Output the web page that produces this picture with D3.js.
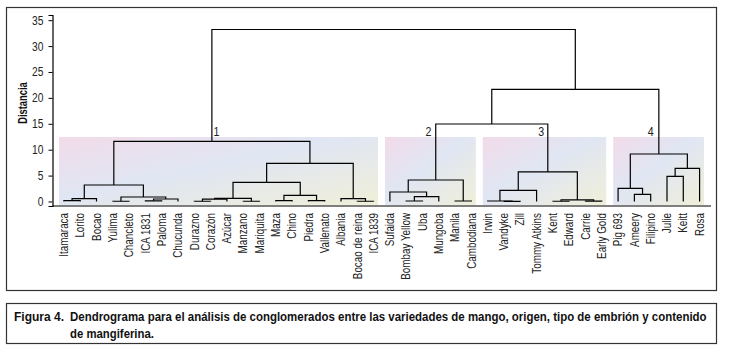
<!DOCTYPE html>
<html>
<head>
<meta charset="utf-8">
<script src="https://cdn.jsdelivr.net/npm/d3@7"></script>
<style>
  body { margin: 0; background: #fff; }
  text { font-family: "Liberation Sans", Arial, sans-serif; }
</style>
</head>
<body>
<div id="chart"></div>
<script>
// leaf order along the x axis
const leaves = ["Itamaraca", "Lorito", "Bocao", "Yulima", "Chancleto", "ICA 1831", "Paloma", "Chucunda",
    "Durazno", "Corazón", "Azúcar", "Manzano", "Mariquita", "Maza", "Chino", "Piedra", "Vallenato",
    "Albania", "Bocao de reina", "ICA 1839", "Sufaida", "Bombay Yellow", "Uba", "Mungoba", "Manila",
    "Cambodiana", "Irwin", "Vandyke", "Zill", "Tommy Atkins", "Kent", "Edward", "Carrie", "Early Gold",
    "Pig 693", "Ameery", "Filipino", "Julie", "Keitt", "Rosa"];

// merges (height = distance), leaves are names
const cluster1 = {h: 11.6, c: [
    {h: 3.18, c: [
        {h: 0.55, c: [{h: 0.15, c: ["Itamaraca", "Lorito"]}, "Bocao"]},
        {h: 0.87, c: [{h: 0.05, c: ["Yulima", "Chancleto"]},
                      {h: 0.48, c: [{h: 0.12, c: ["ICA 1831", "Paloma"]}, "Chucunda"]}]}
    ]},
    {h: 7.37, c: [
        {h: 3.7, c: [
            {h: 0.6, c: [{h: 0.45, c: [{h: 0.05, c: ["Durazno", "Corazón"]}, "Azúcar"]},
                         {h: 0.05, c: ["Manzano", "Mariquita"]}]},
            {h: 1.18, c: [{h: 0.15, c: ["Maza", "Chino"]}, {h: 0.15, c: ["Piedra", "Vallenato"]}]}
        ]},
        {h: 0.55, c: ["Albania", {h: 0.05, c: ["Bocao de reina", "ICA 1839"]}]}
    ]}
]};
const cluster2 = {h: 4.15, c: [
    {h: 1.83, c: ["Sufaida", {h: 0.93, c: [{h: 0.1, c: ["Bombay Yellow", "Uba"]}, "Mungoba"]}]},
    {h: 0.1, c: ["Manila", "Cambodiana"]}
]};
const cluster3 = {h: 5.7, c: [
    {h: 2.16, c: [{h: 0.1, c: ["Irwin", {h: 0.04, c: ["Vandyke", "Zill"]}]}, "Tommy Atkins"]},
    {h: 0.3, c: [{h: 0.05, c: ["Kent", "Edward"]}, {h: 0.08, c: ["Carrie", "Early Gold"]}]}
]};
const cluster4 = {h: 9.17, c: [
    {h: 2.55, c: ["Pig 693", {h: 1.39, c: ["Ameery", "Filipino"]}]},
    {h: 6.4, c: [{h: 4.86, c: ["Julie", "Keitt"]}, "Rosa"]}
]};
const tree = {h: 33.2, c: [cluster1, {h: 21.66, c: [{h: 14.96, c: [cluster2, cluster3]}, cluster4]}]};

// cluster boxes: first / last leaf, label and where the label sits (leaf units)
const clusterNames = ["1", "2", "3", "4"];
const clusterFirst = ["Itamaraca", "Sufaida", "Irwin", "Pig 693"];
const clusterLast = ["ICA 1839", "Cambodiana", "Early Gold", "Rosa"];
const clusterLabelAt = [10.36, 23.36, 30.28, 37.0];
const boxTop = 12.45, boxBottom = -0.7, labelHeight = 13.5;

const yTicks = [0, 5, 10, 15, 20, 25, 30, 35];

const captionHead = "Figura 4.";
const captionLine1 = "Dendrograma para el análisis de conglomerados entre las variedades de mango, origen, tipo de embrión y contenido";
const captionLine2 = "de mangiferina.";

const width = 729, height = 354;
const narrow = 0.82; // squeeze Liberation Sans to look like Arial Narrow

const svg = d3.select("#chart").append("svg")
    .attr("width", width)
    .attr("height", height);

const x = d3.scaleLinear().domain([0.3, 40.7]).range([52.5, 711]);
const y = d3.scaleLinear().domain([-0.87, 36]).range([206, 15]);
const leafPos = name => leaves.indexOf(name) + 1;

// outer frame
svg.append("rect")
    .attr("x", 6.5).attr("y", 7.5).attr("width", 710).attr("height", 283)
    .attr("fill", "none").attr("stroke", "#333").attr("stroke-width", 1.2);

// pastel fill of the cluster boxes
const grad = svg.append("defs").append("linearGradient")
    .attr("id", "boxFill").attr("x1", 0).attr("y1", 0).attr("x2", 1).attr("y2", 1);
grad.append("stop").attr("offset", "0%").attr("stop-color", "#f2dbe9");
grad.append("stop").attr("offset", "45%").attr("stop-color", "#e0e6f3");
grad.append("stop").attr("offset", "100%").attr("stop-color", "#f0efd9");

svg.append("g").selectAll("rect")
    .data(clusterNames)
    .join("rect")
    .attr("x", (d, i) => x(leafPos(clusterFirst[i]) - 0.3))
    .attr("width", (d, i) => x(leafPos(clusterLast[i]) + 0.27) - x(leafPos(clusterFirst[i]) - 0.3))
    .attr("y", y(boxTop))
    .attr("height", y(boxBottom) - y(boxTop))
    .attr("fill", "url(#boxFill)");

svg.append("g").selectAll("text")
    .data(clusterNames)
    .join("text")
    .attr("transform", (d, i) => `translate(${x(clusterLabelAt[i])},${y(labelHeight)}) scale(${narrow},1)`)
    .attr("dy", "0.35em")
    .attr("text-anchor", "middle")
    .attr("font-size", 13)
    .attr("fill", "#222")
    .text(d => d);

// dendrogram
const root = d3.hierarchy(tree, d => d.c);
root.eachAfter(n => {
    if (n.children) {
        n.px = d3.mean(n.children, c => c.px);
        n.ph = n.data.h;
    } else {
        n.px = leafPos(n.data);
        n.ph = 0;
    }
});

svg.append("g").selectAll("path")
    .data(root.descendants().filter(n => n.children))
    .join("path")
    .attr("d", n => {
        const [a, b] = n.children;
        return `M${x(a.px)},${y(a.ph)}V${y(n.ph)}H${x(b.px)}V${y(b.ph)}`;
    })
    .attr("fill", "none")
    .attr("stroke", "#000")
    .attr("stroke-width", 1.2);

// axes
const yAxis = svg.append("g")
    .attr("transform", "translate(52.5,0)")
    .call(d3.axisLeft(y).tickValues(yTicks).tickSize(4).tickPadding(4));
yAxis.select(".domain").attr("stroke", "#000").attr("stroke-width", 1.2);
yAxis.selectAll(".tick line").attr("stroke", "#000");
yAxis.selectAll(".tick text")
    .attr("x", -9 / narrow)
    .attr("transform", `scale(${narrow},1)`)
    .attr("font-size", 12.5)
    .attr("fill", "#222")
    .style("font-family", "'Liberation Sans', Arial, sans-serif");

svg.append("line")
    .attr("x1", x.range()[0]).attr("x2", x.range()[1])
    .attr("y1", 206).attr("y2", 206)
    .attr("stroke", "#000").attr("stroke-width", 1.2);

svg.append("g").selectAll("text")
    .data(leaves)
    .join("text")
    .attr("transform", d => `translate(${x(leafPos(d))},213) rotate(-90) scale(${narrow},1)`)
    .attr("dy", "0.35em")
    .attr("text-anchor", "end")
    .attr("font-size", 12)
    .attr("fill", "#222")
    .text(d => d);

svg.append("text")
    .attr("transform", "translate(22.5,103) rotate(-90) scale(0.78,1)")
    .attr("dy", "0.35em")
    .attr("text-anchor", "middle")
    .attr("font-size", 12)
    .attr("font-weight", "bold")
    .attr("fill", "#111")
    .text("Distancia");

// caption box
svg.append("rect")
    .attr("x", 6.5).attr("y", 303.5).attr("width", 710).attr("height", 40)
    .attr("fill", "none").attr("stroke", "#333").attr("stroke-width", 1.2);

// caption lines squeezed to the width they take in the figure
const captionRows = [
    {text: captionHead, x: 14, y: 321, w: 50},
    {text: captionLine1, x: 70, y: 321, w: 637},
    {text: captionLine2, x: 70, y: 338, w: 84}
];
svg.append("g")
    .attr("font-size", 12.5)
    .attr("font-weight", "bold")
    .attr("fill", "#111")
    .selectAll("text")
    .data(captionRows)
    .join("text")
    .text(d => d.text)
    .attr("transform", function(d) {
        const len = this.getComputedTextLength();
        return `translate(${d.x},${d.y}) scale(${d.w / len},1)`;
    });
</script>
</body>
</html>
